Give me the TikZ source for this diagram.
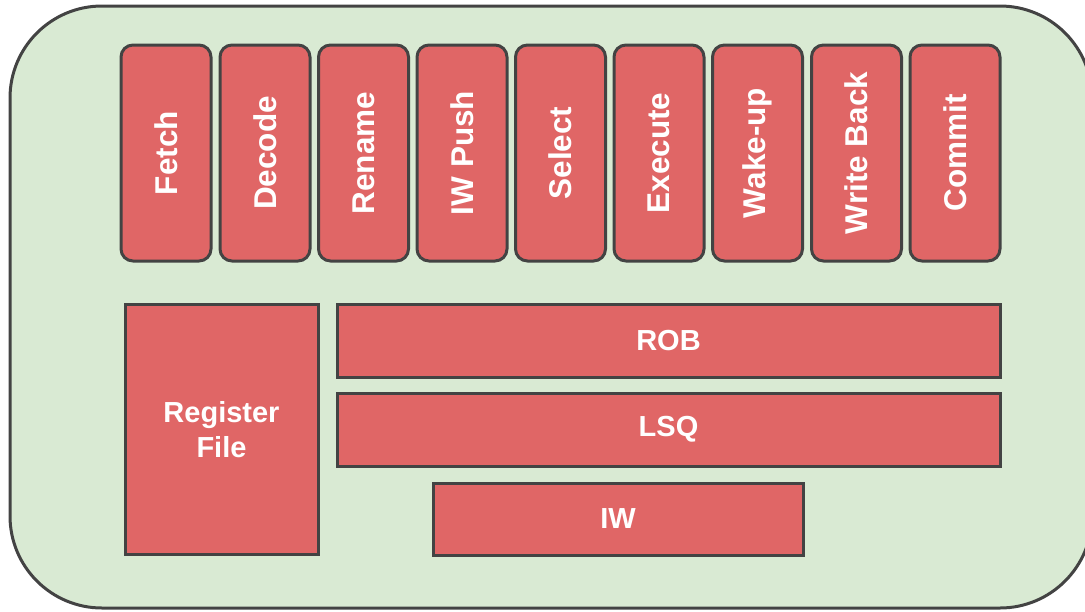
\documentclass[tikz,border=0pt]{standalone}
\usepackage{fontspec}
\setmainfont{Liberation Sans}
\definecolor{panelgreen}{HTML}{D9EAD3}
\definecolor{unitred}{HTML}{E06666}
\definecolor{edgegray}{HTML}{434343}
\begin{document}
\begin{tikzpicture}[x=1pt,y=-1pt,
  unit/.style={draw=edgegray, line width=3pt, fill=unitred, text=white,
    font=\fontsize{29}{35}\selectfont\bfseries, inner sep=0pt},
  stage/.style={unit, rounded corners=12pt, minimum width=90pt, minimum height=216pt},
  stagelabel/.style={text=white, font=\fontsize{31.5}{36}\selectfont\bfseries, rotate=90}]
\useasboundingbox (0,0) rectangle (1085,611);
% core outline
\draw[edgegray, line width=3pt, fill=panelgreen, rounded corners=92pt] (10,6) rectangle (1092,608);
% pipeline stages
\foreach \name/\cx [count=\i] in {Fetch/166, Decode/265, Rename/363.5, IW Push/462, Select/560.5, Execute/659, Wake-up/757.5, Write Back/856.5, Commit/955} {
  \node[stage] (stage\i) at (\cx,153) {};
  \node[stagelabel] (label\i) at (stage\i.center) {\name};
}
% storage structures
\node[unit, minimum width=193pt, minimum height=250pt, align=center] (rf) at (221.5,429.5) {Register\\File};
\node[unit, minimum width=663pt, minimum height=73pt] (rob) at (668.5,340.5) {ROB};
\node[unit, minimum width=663pt, minimum height=73pt] (lsq) at (668.5,429.5) {LSQ};
\node[unit, minimum width=370pt, minimum height=72pt] (iw) at (618,519) {IW};
\end{tikzpicture}
\end{document}
